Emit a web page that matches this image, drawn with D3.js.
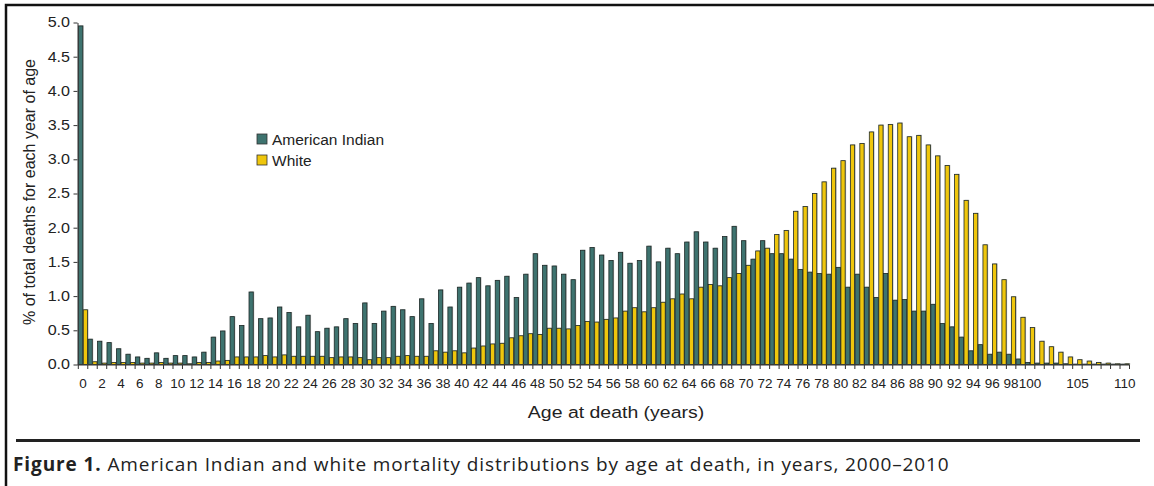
<!DOCTYPE html>
<html>
<head>
<meta charset="utf-8">
<script src="https://cdn.jsdelivr.net/npm/d3@7"></script>
<style>
    body { margin: 0; background: #fff; }
    svg { display: block; font-family: "Liberation Sans", Arial, sans-serif; }
    .axis path, .axis line { stroke: #333; }
    .axis text { font-family: "Liberation Sans", Arial, sans-serif; font-size: 13.5px; fill: #222; }
</style>
</head>
<body>
<svg id="chart" width="1154" height="486"></svg>
<script>
    // ages 0..110
    let ages = d3.range(0, 111);

    let americanIndian = [
        4.95, 0.37, 0.34, 0.32, 0.23, 0.15, 0.11, 0.09, 0.17, 0.09,   // 0-9
        0.13, 0.13, 0.11, 0.18, 0.40, 0.49, 0.70, 0.57, 1.06, 0.67,   // 10-19
        0.68, 0.84, 0.76, 0.55, 0.72, 0.48, 0.53, 0.55, 0.67, 0.60,   // 20-29
        0.90, 0.60, 0.78, 0.85, 0.80, 0.70, 0.96, 0.60, 1.09, 0.84,   // 30-39
        1.13, 1.19, 1.27, 1.15, 1.23, 1.29, 0.98, 1.32, 1.62, 1.45,   // 40-49
        1.44, 1.32, 1.24, 1.67, 1.71, 1.60, 1.52, 1.64, 1.48, 1.52,   // 50-59
        1.73, 1.50, 1.70, 1.62, 1.79, 1.94, 1.79, 1.70, 1.87, 2.02,   // 60-69
        1.81, 1.54, 1.81, 1.62, 1.62, 1.54, 1.39, 1.35, 1.33, 1.32,   // 70-79
        1.42, 1.13, 1.32, 1.13, 0.98, 1.33, 0.94, 0.95, 0.78, 0.78,   // 80-89
        0.88, 0.60, 0.55, 0.40, 0.20, 0.29, 0.15, 0.18, 0.15, 0.08,   // 90-99
        0.03, 0.02, 0.02, 0.02, 0.01, 0.005, 0.005, 0.005, 0.005, 0.005, // 100-109
        0.005                                                          // 110
    ];

    let white = [
        0.80, 0.04, 0.02, 0.03, 0.03, 0.03, 0.02, 0.02, 0.03, 0.02,   // 0-9
        0.02, 0.01, 0.03, 0.03, 0.05, 0.06, 0.11, 0.11, 0.11, 0.13,   // 10-19
        0.11, 0.14, 0.12, 0.12, 0.12, 0.12, 0.10, 0.11, 0.11, 0.10,   // 20-29
        0.07, 0.10, 0.10, 0.12, 0.13, 0.12, 0.12, 0.20, 0.18, 0.20,   // 30-39
        0.17, 0.24, 0.27, 0.30, 0.31, 0.39, 0.42, 0.45, 0.44, 0.53,   // 40-49
        0.53, 0.52, 0.57, 0.63, 0.62, 0.66, 0.68, 0.78, 0.83, 0.77,   // 50-59
        0.83, 0.91, 0.96, 1.03, 0.96, 1.13, 1.17, 1.15, 1.27, 1.33,   // 60-69
        1.45, 1.66, 1.70, 1.90, 1.96, 2.24, 2.31, 2.50, 2.67, 2.87,   // 70-79
        2.98, 3.21, 3.23, 3.40, 3.50, 3.51, 3.53, 3.33, 3.35, 3.21,   // 80-89
        3.05, 2.91, 2.78, 2.40, 2.21, 1.75, 1.47, 1.24, 0.99, 0.69,   // 90-99
        0.54, 0.34, 0.26, 0.18, 0.11, 0.07, 0.05, 0.03, 0.02, 0.01,   // 100-109
        0.01                                                           // 110
    ];

    let seriesNames = ["American Indian", "White"];
    let colors = ["#3e736f", "#efc60c"];

    let xLabels = d3.range(0, 101, 2).concat([105, 110]);
    let yTicks = d3.range(0, 5.01, 0.5);

    let svg = d3.select("#chart");

    // frame
    svg.append("path")
        .attr("d", "M6,486 V5 H1154")
        .attr("fill", "none")
        .attr("stroke", "#111")
        .attr("stroke-width", 2.5);

    let x = d3.scaleBand().domain(ages).range([78.3, 1129.5]).paddingInner(0).paddingOuter(0);
    let xSub = d3.scaleBand().domain([0, 1]).range([0, x.bandwidth()]).paddingInner(0.1).paddingOuter(0.05);
    let y = d3.scaleLinear().domain([0, 5]).range([364.5, 22.5]);

    let rows = ages.map((a, i) => ({age: a, vals: [americanIndian[i], white[i]]}));

    let groups = svg.append("g").selectAll("g")
        .data(rows)
        .enter()
        .append("g")
        .attr("transform", d => "translate(" + x(d.age) + ",0)");

    // light shadow behind bars
    groups.selectAll("rect.shadow")
        .data(d => d.vals.map((v, k) => ({k: k, v: v})))
        .enter()
        .append("rect")
        .attr("class", "shadow")
        .attr("x", d => xSub(d.k) + 1)
        .attr("y", d => y(d.v) - 0.5)
        .attr("width", xSub.bandwidth())
        .attr("height", d => y(0) - y(d.v) + 0.5)
        .attr("fill", "#bbb");

    groups.selectAll("rect.bar")
        .data(d => d.vals.map((v, k) => ({k: k, v: v})))
        .enter()
        .append("rect")
        .attr("class", "bar")
        .attr("x", d => xSub(d.k))
        .attr("y", d => y(d.v))
        .attr("width", xSub.bandwidth())
        .attr("height", d => y(0) - y(d.v))
        .attr("fill", d => colors[d.k])
        .attr("stroke", "#1e2a28")
        .attr("stroke-width", 0.8);

    // y axis, labels a bit wider like the scanned figure
    let yAxis = svg.append("g")
        .attr("class", "axis")
        .attr("transform", "translate(77.5,0)")
        .call(d3.axisLeft(y).tickValues(yTicks).tickFormat(d3.format(".1f")).tickSize(4).tickSizeOuter(0));
    yAxis.selectAll(".tick text")
        .attr("x", -6.5)
        .attr("transform", "scale(1.15,1)")
        .style("font-size", "14px");

    // x axis: ticks at band edges, labels at band centres
    let xAxis = svg.append("g").attr("class", "axis");
    xAxis.append("line")
        .attr("x1", 77.5).attr("x2", x.range()[1])
        .attr("y1", y(0) + 0.5).attr("y2", y(0) + 0.5);
    xAxis.selectAll("line.tick")
        .data(ages.concat([111]))
        .enter()
        .append("line")
        .attr("x1", d => d < 111 ? x(d) : x.range()[1])
        .attr("x2", d => d < 111 ? x(d) : x.range()[1])
        .attr("y1", y(0) + 0.5)
        .attr("y2", y(0) + 4.5);
    xAxis.selectAll("text")
        .data(xLabels)
        .enter()
        .append("text")
        .attr("x", d => x(d) + x.bandwidth() / 2)
        .attr("y", 387.5)
        .attr("text-anchor", "middle")
        .text(d => d);

    svg.append("text")
        .attr("transform", "translate(616,418) scale(1.18,1)")
        .attr("text-anchor", "middle")
        .style("font-size", "16.5px").style("fill", "#222")
        .text("Age at death (years)");

    svg.append("text")
        .attr("transform", "translate(35,192) rotate(-90)")
        .attr("text-anchor", "middle")
        .style("font-size", "16px").style("fill", "#222")
        .text("% of total deaths for each year of age");

    // legend
    let legend = svg.append("g").attr("transform", "translate(257,134)");
    seriesNames.forEach(function (name, i) {
        legend.append("rect")
            .attr("x", 0).attr("y", i * 21)
            .attr("width", 10).attr("height", 10)
            .attr("fill", colors[i])
            .attr("stroke", "#333").attr("stroke-width", 0.8);
        legend.append("text")
            .attr("x", 15).attr("y", i * 21 + 10.5)
            .style("font-size", "15.5px").style("fill", "#222")
            .text(name);
    });

    // caption
    svg.append("line")
        .attr("x1", 16).attr("x2", 1140)
        .attr("y1", 440.5).attr("y2", 440.5)
        .attr("stroke", "#222").attr("stroke-width", 3);

    let cap = svg.append("text")
        .attr("x", 13).attr("y", 471)
        .style("font-size", "19px").style("fill", "#222")
        .style("letter-spacing", "0.9px")
        .style("font-family", "'Open Sans', 'Liberation Sans', sans-serif");
    cap.append("tspan").style("font-weight", "bold").text("Figure 1.");
    cap.append("tspan").text(" American Indian and white mortality distributions by age at death, in years, 2000\u20132010");
</script>
</body>
</html>
